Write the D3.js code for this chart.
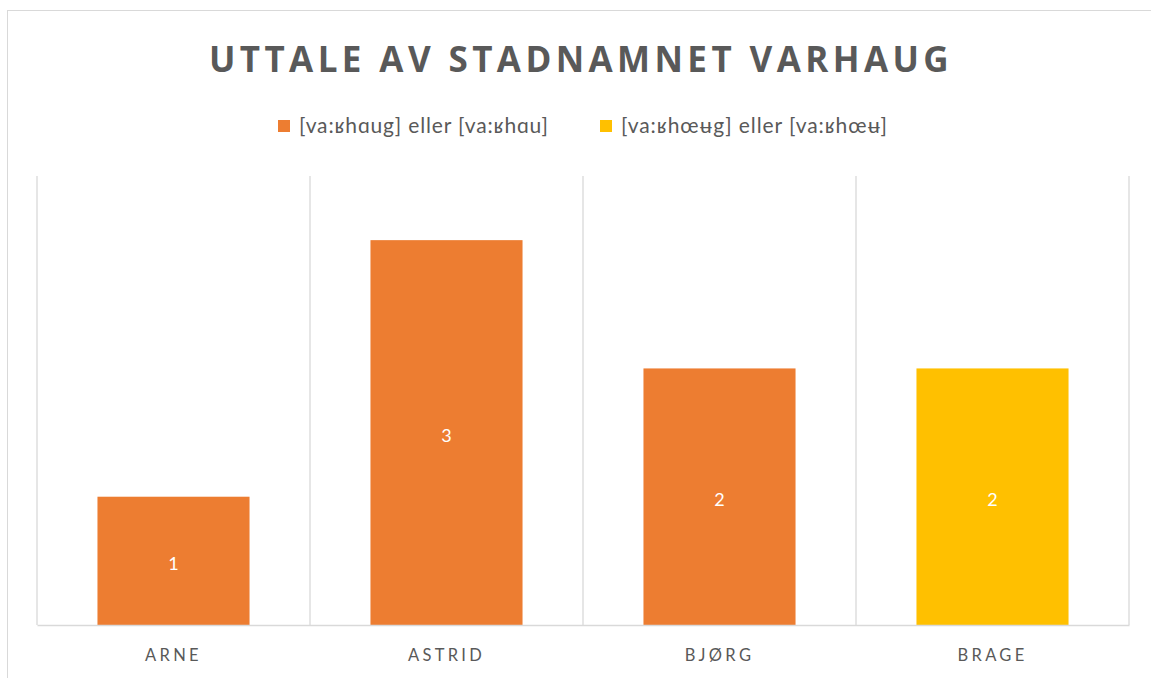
<!DOCTYPE html>
<html><head><meta charset="utf-8">
<script src="https://cdn.jsdelivr.net/npm/d3@7"></script>
<style>
html,body{margin:0;padding:0;background:#fff;}
svg{display:block;}
</style></head>
<body>
<svg id="c" width="1151" height="678"></svg>
<script>
const title = "UTTALE AV STADNAMNET VARHAUG";
const categories = ["ARNE","ASTRID","BJØRG","BRAGE"];
const seriesNames = ["[va:ʁhɑug] eller [va:ʁhɑu]", "[va:ʁhœʉg] eller [va:ʁhœʉ]"];
const seriesColors = ["#ED7D31", "#FFC000"];
const seriesA = [1, 3, 2, 0];
const seriesB = [0, 0, 0, 2];
const yMax = 3.5;

const svg = d3.select("#c");
const W = 1151, H = 678;
const m = {left:37, right:22, top:176, bottom:53};

svg.append("rect").attr("x",7.5).attr("y",10.5).attr("width",1160).attr("height",700)
  .attr("fill","none").attr("stroke","#d9d9d9").attr("stroke-width",1);

const x = d3.scaleBand().domain(categories).range([m.left, W - m.right]).paddingInner(0).paddingOuter(0);
const y = d3.scaleLinear().domain([0, yMax]).range([H - m.bottom, m.top]);

const bounds = categories.map(c => x(c)).concat([x.range()[1]]);
svg.append("g").selectAll("line").data(bounds).join("line")
  .attr("x1", d => d).attr("x2", d => d)
  .attr("y1", y(yMax)).attr("y2", y(0))
  .attr("stroke","#d9d9d9").attr("stroke-width",1.3);

const rows = categories.map((c,i) => ({cat:c, a:seriesA[i], b:seriesB[i]}));
const stack = d3.stack().keys(["a","b"])(rows);
const barW = x.bandwidth() * 0.557;
stack.forEach((layer, li) => {
  const g = svg.append("g");
  g.selectAll("rect").data(layer.filter(d => d[1]-d[0] > 0)).join("rect")
    .attr("x", d => x(d.data.cat) + (x.bandwidth()-barW)/2)
    .attr("width", barW)
    .attr("y", d => y(d[1]))
    .attr("height", d => y(d[0]) - y(d[1]))
    .attr("fill", seriesColors[li]);
  g.selectAll("text").data(layer.filter(d => d[1]-d[0] > 0)).join("text")
    .attr("x", d => x(d.data.cat) + x.bandwidth()/2)
    .attr("y", d => (y(d[0]) + y(d[1]))/2 + 3)
    .attr("dy","0.35em")
    .attr("text-anchor","middle")
    .attr("fill","#fff")
    .attr("font-family","Lato, 'Noto Sans', sans-serif")
    .attr("font-size",18)
    .text(d => d[1]-d[0]);
});

const xAxis = svg.append("g").attr("transform", `translate(0,${y(0)})`)
  .call(d3.axisBottom(x).tickSize(0).tickPadding(24));
xAxis.select(".domain").attr("stroke","#d9d9d9").attr("stroke-width",1.3);
xAxis.selectAll("text")
  .attr("font-family","Lato, 'Noto Sans', sans-serif")
  .attr("font-size",16.5)
  .attr("fill","#595959")
  .attr("letter-spacing","3.3px");

svg.append("text").attr("x", 581).attr("y", 72)
  .attr("text-anchor","middle")
  .attr("font-family","'Open Sans', Lato, sans-serif")
  .attr("font-weight","bold")
  .attr("font-size",35)
  .attr("letter-spacing","4.4px")
  .attr("fill","#595959")
  .text(title);

const legX = [278, 600];
const legW = [249, 266];
const leg = svg.append("g");
seriesNames.forEach((n,i) => {
  leg.append("rect").attr("x", legX[i]).attr("y", 120).attr("width",12).attr("height",12)
    .attr("fill", seriesColors[i]);
  leg.append("text").attr("x", legX[i]+21).attr("y", 126).attr("dy","0.35em")
    .attr("font-family","Lato, 'Noto Sans', sans-serif")
    .attr("font-size",21)
    .attr("textLength", legW[i])
    .attr("lengthAdjust","spacing")
    .attr("fill","#595959")
    .text(n);
});
</script>
</body></html>
